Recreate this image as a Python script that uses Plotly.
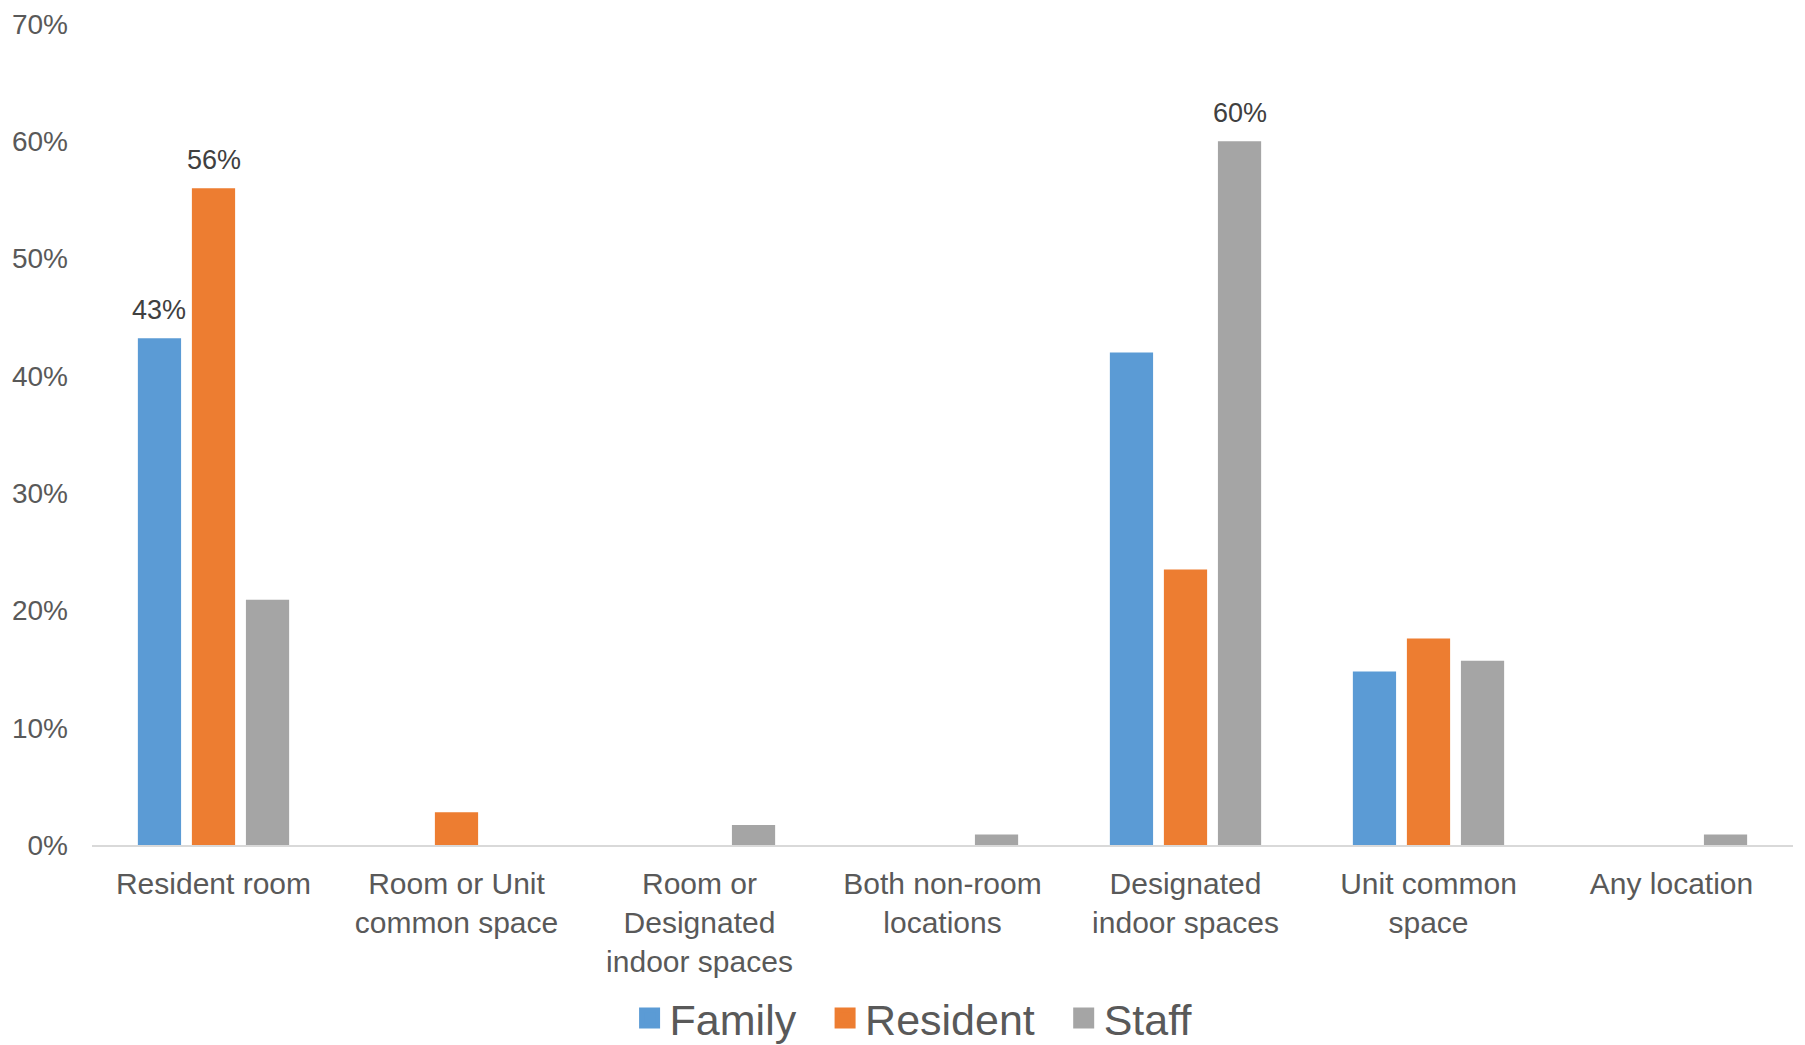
import plotly.graph_objects as go

categories = ["Resident room", "Room or Unit<br>common space", "Room or<br>Designated<br>indoor spaces",
              "Both non-room<br>locations", "Designated<br>indoor spaces", "Unit common<br>space", "Any location"]
family = [43.2, 0, 0, 0, 42.0, 14.8, 0]
resident = [56.0, 2.8, 0, 0, 23.5, 17.6, 0]
staff = [20.9, 0, 1.7, 0.9, 60.0, 15.7, 0.9]
family_labels = ["43%", "", "", "", "", "", ""]
resident_labels = ["56%", "", "", "", "", "", ""]
staff_labels = ["", "", "", "", "60%", "", ""]
y_ticks = [0, 10, 20, 30, 40, 50, 60, 70]

FONT = "Liberation Sans, Arial, sans-serif"
NB = "\u00a0"
series = [("Family", family, family_labels, "#5B9BD5", "Family" + NB * 2),
          ("Resident", resident, resident_labels, "#ED7D31", "Resident" + NB * 2),
          ("Staff", staff, staff_labels, "#A5A5A5", "Staff")]

# page body has an 8px default margin, so the figure is sized to fit the 1805x1045 window
W, H = 1797, 1037
ML, MR, MT, MB = 84, 12, 16, 200
BARGAP, GROUPGAP = 0.333, 0.2
slot_px = (W - ML - MR) / len(categories) * (1 - BARGAP) / len(series)

fig = go.Figure()
for name, vals, labels, color, legname in series:
    fig.add_trace(go.Bar(
        name=name, x=categories, y=vals, marker_color=color,
        marker_line_width=0, showlegend=False,
    ))
# data labels
for i, (name, vals, labels, color, legname) in enumerate(series):
    for cat, v, lab in zip(categories, vals, labels):
        if lab:
            fig.add_annotation(x=cat, y=v, text=lab, showarrow=False,
                               xshift=(i - 1) * slot_px, yshift=11, yanchor="bottom",
                               font=dict(family=FONT, size=27, color="#404040"))
# legend entries (large square swatches)
for name, vals, labels, color, legname in series:
    fig.add_trace(go.Scatter(
        name=legname, x=[None], y=[None], mode="markers",
        marker=dict(symbol="square", size=16, color=color, line=dict(width=5, color=color)),
        showlegend=True, hoverinfo="skip",
    ))

fig.update_layout(
    width=W, height=H,
    margin=dict(l=ML, r=MR, t=MT, b=MB, autoexpand=False),
    paper_bgcolor="white", plot_bgcolor="white",
    barmode="group", bargap=BARGAP, bargroupgap=GROUPGAP,
    font=dict(family=FONT, color="#595959"),
    legend=dict(orientation="h", x=0.483, xanchor="center", y=-0.2107, yanchor="middle",
                font=dict(size=43, color="#595959"), itemwidth=30, traceorder="normal",
                itemsizing="trace"),
    xaxis=dict(showline=True, linecolor="#D9D9D9", linewidth=2, ticks="", automargin=False,
               tickfont=dict(size=30, color="#595959"), showgrid=False, ticklabelstandoff=11),
    yaxis=dict(range=[0, 70], tickvals=y_ticks, ticktext=[f"{v}%" for v in y_ticks],
               showgrid=False, zeroline=False, showline=False, ticks="", automargin=False,
               ticklabeloverflow="allow",
               tickfont=dict(size=28, color="#595959"), ticklabelstandoff=23),
)

fig.write_html("out.html")
